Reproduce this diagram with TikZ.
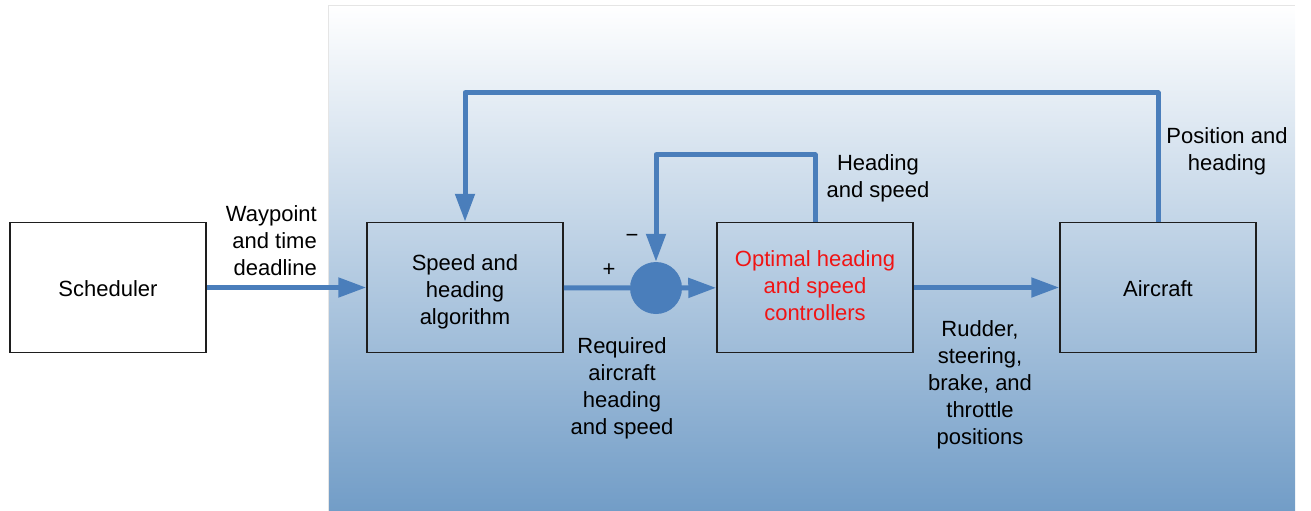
\documentclass[tikz,border=0pt]{standalone}
\usepackage{fontspec}
\setmainfont{Liberation Sans}
\usetikzlibrary{arrows.meta}
\definecolor{lineblue}{RGB}{74,126,187}
\definecolor{bgbot}{RGB}{114,157,199}
\definecolor{boxline}{RGB}{30,30,30}
\definecolor{optred}{RGB}{240,20,20}
\begin{document}
\begin{tikzpicture}[x=1pt,y=-1pt,
 every node/.style={font=\fontsize{22}{27}\selectfont},
 blk/.style={draw=boxline, line width=1.5pt, minimum width=196pt, minimum height=130pt, inner sep=0pt},
 conn/.style={draw=lineblue, line width=5pt, line join=round},
 arr/.style={conn, -{Triangle[length=28pt,width=19pt]}},
 lbl/.style={align=center, inner sep=0pt}]
\useasboundingbox (0,0) rectangle (1311,511);
\shade[top color=white, bottom color=bgbot] (328,5) rectangle (1295,511);
\draw[gray!20, line width=0.8pt] (328,511) -- (328,5) -- (1295,5);

\node[blk] (sched) at (108,287.5) {};
\node[blk] (alg) at (465,287.5) {};
\node[blk] (opt) at (815,287.5) {};
\node[blk] (air) at (1158,287.5) {};
\node[lbl] (schedt) at ([yshift=-1]sched.center) {Scheduler};
\node[lbl] (algt) at ([yshift=-4]alg.center) {Speed and\\heading\\algorithm};
\node[lbl, text=optred] (optt) at ([yshift=2]opt.center) {Optimal heading\\and speed\\controllers};
\node[lbl] (airt) at ([yshift=-1]air.center) {Aircraft};
\node[circle, fill=lineblue, minimum size=52pt, inner sep=0pt] (sum) at (656,288) {};

\draw[arr] (sched) -- (alg);
\draw[conn] (alg) -- (sum);
\draw[arr] (sum) -- (opt);
\draw[arr] (opt) -- (air);
\draw[arr] (opt.north) -- ++(0,-67) -| (sum.north);
\draw[arr] (air.north) -- ++(0,-129) -| (alg.north);

\node[lbl, align=right, anchor=east] (wp) at (317,241) {Waypoint\\and time\\deadline};
\node[lbl] (plus) at (609,270) {+};
\node[lbl] (minus) at (632,238) {−};
\node[lbl] (req) at (622,388) {Required\\aircraft\\heading\\and speed};
\node[lbl] (hs) at (878,178) {Heading\\and speed};
\node[lbl] (rud) at (980,385) {Rudder,\\steering,\\brake, and\\throttle\\positions};
\node[lbl] (pos) at (1227,151.5) {Position and\\heading};
\end{tikzpicture}
\end{document}
